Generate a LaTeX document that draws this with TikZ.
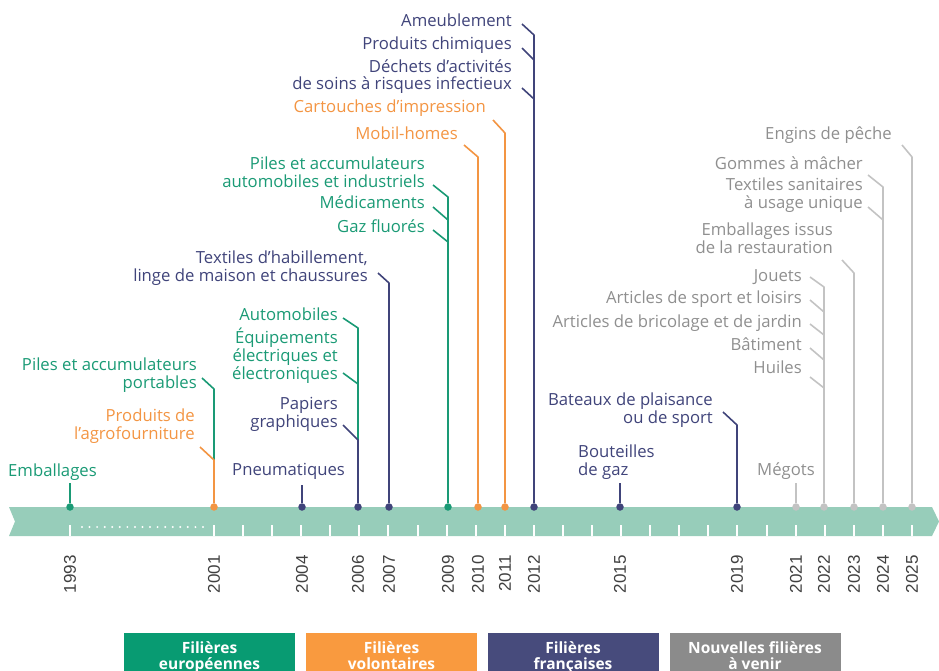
\documentclass[tikz,border=0pt]{standalone}
\usepackage{fontspec}
\setmainfont{Open Sans}
\newfontfamily\yearfont{Liberation Sans}
\definecolor{cgreen}{HTML}{1A9A75}
\definecolor{corange}{HTML}{F39543}
\definecolor{cnavy}{HTML}{40447A}
\definecolor{cgrayt}{HTML}{8F8F8F}
\definecolor{cgrayl}{HTML}{C3C3C3}
\definecolor{cbar}{HTML}{97CDBA}
\definecolor{lgreen}{HTML}{089B72}
\definecolor{lorange}{HTML}{F99A3F}
\definecolor{lnavy}{HTML}{474B7C}
\definecolor{lgray}{HTML}{8B8B8B}
\definecolor{cyear}{HTML}{404040}
\newcommand\lblfont{\fontsize{16.7}{16}\selectfont}
\newcommand\rtwo[2]{\begin{tabular}[b]{@{}r@{}}#1\\#2\end{tabular}}
\newcommand\rthree[3]{\begin{tabular}[b]{@{}r@{}}#1\\#2\\#3\end{tabular}}
\newcommand\ltwo[2]{\begin{tabular}[b]{@{}l@{}}#1\\#2\end{tabular}}
\newcommand\ctwo[2]{\begin{tabular}{@{}c@{}}#1\\[-1pt]#2\end{tabular}}
\tikzset{
  lbl/.style={inner sep=0pt, anchor=base east, font=\lblfont},
  lblw/.style={inner sep=0pt, anchor=base west, font=\lblfont},
  lead/.style={line width=1.6pt, line join=round},
  dot/.style={circle, inner sep=0pt, minimum size=7.5pt},
  tickm/.style={white, line width=2pt},
  yearlbl/.style={rotate=90, anchor=east, inner sep=0pt, text=cyear, font=\yearfont\fontsize{17}{17}\selectfont},
  legbox/.style={anchor=north, minimum width=171pt, minimum height=49pt, inner sep=0pt, text=white, font=\bfseries\fontsize{15.5}{15}\selectfont}
}
\begin{document}
\begin{tikzpicture}[x=1pt,y=-1pt]
\useasboundingbox (0,0) rectangle (939,671);
\clip (0,0) rectangle (939,671);
% timeline bar
\fill[cbar] (9,507) -- (932,507) -- (939,521.5) -- (932,536) -- (9,536) -- (15,521.5) -- cycle;
\draw[tickm] (70,525) -- (70,536);
\foreach \k in {0,...,24} \draw[tickm] ({214+29.08*\k},525) -- ({214+29.08*\k},536);
\foreach \i in {0,...,16} \fill[white] ({82+7.56*\i},527) circle (1.1pt);
% years
\foreach \yr/\xx in {1993/70,2001/214,2004/302,2006/358,2007/389,2009/448,2010/478,2011/505,2012/534,2015/620,2019/737,2021/796,2022/824,2023/854,2024/883,2025/912}
  \node[yearlbl] (y\yr) at (\xx,555) {\yr};
% dots
\node[dot, fill=cgreen] (d1993) at (70,507) {};
\node[dot, fill=corange] (d2001) at (214,507) {};
\node[dot, fill=cnavy] (d2004) at (302,507) {};
\node[dot, fill=cnavy] (d2006) at (358,507) {};
\node[dot, fill=cnavy] (d2007) at (389,507) {};
\node[dot, fill=cgreen] (d2009) at (448,507) {};
\node[dot, fill=corange] (d2010) at (478,507) {};
\node[dot, fill=corange] (d2011) at (505,507) {};
\node[dot, fill=cnavy] (d2012) at (534,507) {};
\node[dot, fill=cnavy] (d2015) at (620,507) {};
\node[dot, fill=cnavy] (d2019) at (737,507) {};
\node[dot, fill=cgrayl] (d2021) at (796,507) {};
\node[dot, fill=cgrayl] (d2022) at (824,507) {};
\node[dot, fill=cgrayl] (d2023) at (854,507) {};
\node[dot, fill=cgrayl] (d2024) at (883,507) {};
\node[dot, fill=cgrayl] (d2025) at (912,507) {};
\coordinate (j2001) at (214,460);
\coordinate (j2006) at (358,440);
% ---- green labels
\node[lblw, text=cgreen] (emb) at (8,476) {Emballages};
\draw[lead, cgreen] (70,483) -- (d1993);
\node[lbl, text=cgreen] (pap) at (197,388) {\rtwo{Piles et accumulateurs}{portables}};
\draw[lead, cgreen] (202,378) -- (214,389) -- (j2001);
\node[lbl, text=cgreen] (aut) at (338,320) {Automobiles};
\draw[lead, cgreen] (343,318) -- (358,328) -- (j2006);
\node[lbl, text=cgreen] (eee) at (338,379) {\rthree{Équipements}{électriques et}{électroniques}};
\draw[lead, cgreen] (343,373) -- (358,384);
\node[lbl, text=cgreen] (pai) at (425,187) {\rtwo{Piles et accumulateurs}{automobiles et industriels}};
\draw[lead, cgreen] (433,185) -- (448,197) -- (d2009);
\node[lbl, text=cgreen] (med) at (425,208) {Médicaments};
\draw[lead, cgreen] (433,207) -- (448,220);
\node[lbl, text=cgreen] (gaz) at (425,232) {Gaz fluorés};
\draw[lead, cgreen] (433,230) -- (448,242);
% ---- orange labels
\node[lbl, text=corange] (agr) at (195,439) {\rtwo{Produits de}{l’agrofourniture}};
\draw[lead, corange] (200,447) -- (j2001) -- (d2001);
\node[lbl, text=corange] (mob) at (458,140) {Mobil-homes};
\draw[lead, corange] (464,145) -- (478,157) -- (d2010);
\node[lbl, text=corange] (car) at (486,113) {Cartouches d’impression};
\draw[lead, corange] (493,120) -- (505,133) -- (d2011);
% ---- navy labels
\node[lblw, text=cnavy] (pneu) at (232,475) {Pneumatiques};
\draw[lead, cnavy] (302,485) -- (d2004);
\node[lbl, text=cnavy] (papg) at (338,427) {\rtwo{Papiers}{graphiques}};
\draw[lead, cnavy] (343,425) -- (j2006) -- (d2006);
\node[lbl, text=cnavy] (tex) at (368,281) {\rtwo{Textiles d’habillement,}{linge de maison et chaussures}};
\draw[lead, cnavy] (378,273) -- (389,283) -- (d2007);
\node[lbl, text=cnavy] (ameu) at (512,27) {Ameublement};
\draw[lead, cnavy] (522,24) -- (534,35) -- (d2012);
\node[lbl, text=cnavy] (chim) at (512,50) {Produits chimiques};
\draw[lead, cnavy] (522,48) -- (534,60);
\node[lbl, text=cnavy] (dasri) at (512,90) {\rtwo{Déchets d’activités}{de soins à risques infectieux}};
\draw[lead, cnavy] (522,88) -- (534,99);
\node[lblw, text=cnavy] (bout) at (578,475) {\ltwo{Bouteilles}{de gaz}};
\draw[lead, cnavy] (620,483) -- (d2015);
\node[lbl, text=cnavy] (bat) at (713,423) {\rtwo{Bateaux de plaisance}{ou de sport}};
\draw[lead, cnavy] (723,412) -- (737,425) -- (d2019);
% ---- gray labels
\node[lblw, text=cgrayt] (meg) at (757,475) {Mégots};
\draw[lead, cgrayl] (796,483) -- (d2021);
\node[lbl, text=cgrayt] (hui) at (802,373) {Huiles};
\draw[lead, cgrayl] (810,377) -- (824,388) -- (d2022);
\node[lbl, text=cgrayt] (bati) at (802,350) {Bâtiment};
\draw[lead, cgrayl] (810,348) -- (824,360);
\node[lbl, text=cgrayt] (bric) at (802,327) {Articles de bricolage et de jardin};
\draw[lead, cgrayl] (810,324) -- (824,335);
\node[lbl, text=cgrayt] (sport) at (802,303) {Articles de sport et loisirs};
\draw[lead, cgrayl] (810,300) -- (824,312);
\node[lbl, text=cgrayt] (jou) at (802,281) {Jouets};
\draw[lead, cgrayl] (810,277) -- (824,287) -- (824,388);
\node[lbl, text=cgrayt] (rest) at (833,253) {\rtwo{Emballages issus}{de la restauration}};
\draw[lead, cgrayl] (842,260) -- (854,273) -- (d2023);
\node[lbl, text=cgrayt] (tsu) at (863,208) {\rtwo{Textiles sanitaires}{à usage unique}};
\draw[lead, cgrayl] (868,207) -- (883,220);
\node[lbl, text=cgrayt] (gom) at (863,170) {Gommes à mâcher};
\draw[lead, cgrayl] (868,175) -- (883,187) -- (d2024);
\node[lbl, text=cgrayt] (eng) at (892,140) {Engins de pêche};
\draw[lead, cgrayl] (902,145) -- (912,157) -- (d2025);
% ---- legend
\node[legbox, fill=lgreen] (leg1) at (209.5,633) {\ctwo{Filières}{européennes}};
\node[legbox, fill=lorange] (leg2) at (391.5,633) {\ctwo{Filières}{volontaires}};
\node[legbox, fill=lnavy] (leg3) at (573,633) {\ctwo{Filières}{françaises}};
\node[legbox, fill=lgray] (leg4) at (755,633) {\ctwo{Nouvelles filières}{à venir}};
\end{tikzpicture}
\end{document}
